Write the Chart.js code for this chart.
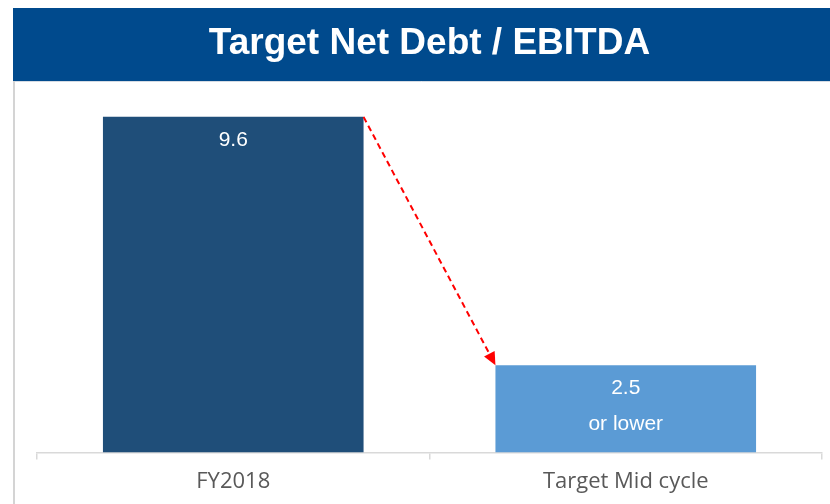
<!DOCTYPE html>
<html>
<head>
<meta charset="utf-8">
<script src="https://cdn.jsdelivr.net/npm/chart.js@4/dist/chart.umd.min.js"></script>
<style>
html,body{margin:0;padding:0;background:#fff;}
#wrap{position:relative;width:830px;height:504px;}
canvas{display:block;}
</style>
</head>
<body>
<div id="wrap"><canvas id="c" width="830" height="504"></canvas></div>
<script>
const chartTitle = "Target Net Debt / EBITDA";
const categories = ["FY2018", "Target Mid cycle"];
const values = [9.6, 2.5];
const valueLabels = ["9.6", "2.5"];
const noteLabels = ["", "or lower"];
const barColors = ["#1F4E79", "#5B9BD5"];

const framePlugin = {
  id: 'frame',
  beforeDraw(chart) {
    const ctx = chart.ctx;
    ctx.save();
    ctx.fillStyle = '#fff';
    ctx.fillRect(0, 0, chart.width, chart.height);
    ctx.fillStyle = '#004A8D';
    ctx.fillRect(13, 8, chart.width - 13, 73);
    ctx.strokeStyle = '#d5dbe3';
    ctx.lineWidth = 1;
    ctx.beginPath(); ctx.moveTo(13, 81.5); ctx.lineTo(chart.width, 81.5); ctx.stroke();
    ctx.strokeStyle = '#d4d4d4';
    ctx.lineWidth = 2;
    ctx.beginPath(); ctx.moveTo(14, 81); ctx.lineTo(14, chart.height); ctx.stroke();
    ctx.restore();
  }
};

const labelPlugin = {
  id: 'barLabels',
  afterDatasetsDraw(chart) {
    const ctx = chart.ctx;
    const meta = chart.getDatasetMeta(0);
    ctx.save();
    ctx.fillStyle = '#ffffff';
    ctx.font = '21px "Liberation Sans", Arial, sans-serif';
    ctx.textAlign = 'center';
    ctx.textBaseline = 'middle';
    meta.data.forEach((bar, i) => {
      ctx.fillText(valueLabels[i], bar.x, bar.y + 23);
      if (noteLabels[i]) ctx.fillText(noteLabels[i], bar.x, bar.y + 59);
    });
    // dashed arrow
    const b0 = meta.data[0], b1 = meta.data[1];
    const x0 = b0.x + b0.width / 2, y0 = b0.y;
    const x1 = b1.x - b1.width / 2, y1 = b1.y;
    const ang = Math.atan2(y1 - y0, x1 - x0);
    const head = 13;
    ctx.strokeStyle = '#FF0000';
    ctx.lineWidth = 2;
    ctx.setLineDash([6, 4]);
    ctx.beginPath();
    ctx.moveTo(x0, y0);
    ctx.lineTo(x1 - Math.cos(ang) * head, y1 - Math.sin(ang) * head);
    ctx.stroke();
    ctx.setLineDash([]);
    ctx.fillStyle = '#FF0000';
    ctx.beginPath();
    ctx.moveTo(x1, y1);
    ctx.lineTo(x1 - Math.cos(ang) * head - Math.sin(ang) * 6, y1 - Math.sin(ang) * head + Math.cos(ang) * 6);
    ctx.lineTo(x1 - Math.cos(ang) * head + Math.sin(ang) * 6, y1 - Math.sin(ang) * head - Math.cos(ang) * 6);
    ctx.closePath();
    ctx.fill();
    ctx.restore();
  }
};

new Chart(document.getElementById('c'), {
  type: 'bar',
  data: {
    labels: categories,
    datasets: [{
      data: values,
      backgroundColor: barColors,
      borderWidth: 0,
      barPercentage: 0.83,
      categoryPercentage: 0.8
    }]
  },
  options: {
    responsive: false,
    animation: false,
    events: [],
    layout: { padding: { left: 37, right: 8, top: 0, bottom: 0 } },
    plugins: {
      legend: { display: false },
      tooltip: { enabled: false },
      title: {
        display: true,
        text: chartTitle,
        color: '#ffffff',
        font: { family: '"Liberation Sans", Arial, sans-serif', size: 37, weight: 'bold', lineHeight: 1.2 },
        padding: { top: 22, bottom: 19 }
      }
    },
    scales: {
      x: {
        offset: true,
        grid: { display: true, offset: true, drawOnChartArea: false, drawTicks: true, tickLength: 7, color: '#d9d9d9', lineWidth: 1.5 },
        border: { display: true, color: '#d9d9d9', width: 1.5 },
        ticks: { color: '#595959', padding: 9, font: { family: '"Open Sans", sans-serif', size: 22 } }
      },
      y: {
        display: false,
        min: 0,
        max: 10.5
      }
    }
  },
  plugins: [framePlugin, labelPlugin]
});
</script>
</body>
</html>
